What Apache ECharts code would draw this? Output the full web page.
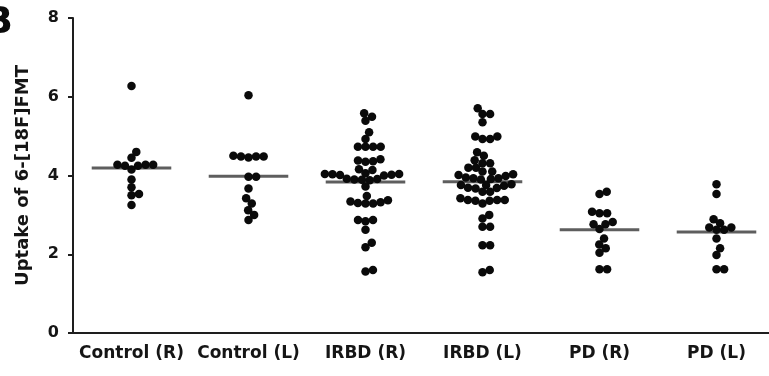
<!DOCTYPE html>
<html>
<head>
<meta charset="utf-8">
<script src="https://cdn.jsdelivr.net/npm/echarts@6/dist/echarts.min.js"></script>
<style>
  html, body { margin: 0; padding: 0; background: #ffffff; }
  #chart { width: 769px; height: 376px; }
</style>
</head>
<body>
<div id="chart"></div>
<script>
// Groups along the x axis
const categories = ['Control (R)', 'Control (L)', 'IRBD (R)', 'IRBD (L)', 'PD (R)', 'PD (L)'];

// 6-[18F]FMT uptake, one value per subject
const controlR = [6.27, 4.60, 4.45, 4.27, 4.27, 4.27, 4.25, 4.25, 4.15, 3.90, 3.70, 3.53, 3.50, 3.25];
const controlL = [6.04, 4.50, 4.48, 4.48, 4.46, 4.48, 3.97, 3.97, 3.67, 3.42, 3.29, 3.12, 3.00, 2.87];
const irbdR = [5.58, 5.49, 5.39, 5.10, 4.93, 4.73, 4.73, 4.73, 4.73, 4.41, 4.36, 4.35, 4.38,
               4.16, 4.14, 4.06, 4.04, 4.03, 4.02, 4.04, 4.01, 4.00, 3.92, 3.90, 3.89, 3.91, 3.88,
               3.72, 3.48, 3.34, 3.30, 3.29, 3.29, 3.32, 3.37, 2.87, 2.87, 2.84, 2.62, 2.29, 2.18,
               1.60, 1.56];
const irbdL = [5.71, 5.56, 5.56, 5.35, 4.99, 4.99, 4.93, 4.93, 4.59, 4.50, 4.39, 4.31, 4.31,
               4.20, 4.20, 4.10, 4.10, 4.01, 4.03, 3.99, 3.95, 3.93, 3.91, 3.93, 3.90,
               3.78, 3.76, 3.74, 3.76, 3.69, 3.67, 3.68, 3.59, 3.59, 3.42, 3.36, 3.36, 3.29,
               3.38, 3.38, 3.38, 3.00, 2.91, 2.70, 2.70, 2.23, 2.23, 1.60, 1.54];
const pdR = [3.59, 3.53, 3.08, 3.04, 3.04, 2.76, 2.76, 2.82, 2.64, 2.40, 2.25, 2.15, 2.04, 1.62, 1.62];
const pdL = [3.78, 3.53, 2.89, 2.79, 2.68, 2.68, 2.62, 2.62, 2.40, 2.15, 1.98, 1.62, 1.62];

const groups = [controlR, controlL, irbdR, irbdL, pdR, pdL];

// y axis
const yMin = 0, yMax = 8, yStep = 2;
const yTitle = 'Uptake of 6-[18F]FMT';

// layout
const gridTop = 18, gridBottom = 43, gridLeft = 73, gridRight = -6;
const chartHeight = 376;
const dotSize = 8.5;
const dotSpacing = 7.6;   // centre-to-centre packing distance, dots may touch slightly
const pxPerUnit = (chartHeight - gridTop - gridBottom) / (yMax - yMin);

// Beeswarm layout: place each point (lowest first) at the horizontal offset
// closest to the group centre that does not overlap an already placed point.
function swarmOffsets(values, d) {
  const pts = values.map((v, i) => ({ v, i, y: v * pxPerUnit, x: 0 }));
  const order = pts.slice().sort((a, b) => a.v - b.v);
  const placed = [];
  const out = new Array(values.length);
  for (const p of order) {
    const cands = [0];
    for (const q of placed) {
      const dy = Math.abs(p.y - q.y);
      if (dy < d) {
        const dx = Math.sqrt(d * d - dy * dy);
        cands.push(q.x + dx, q.x - dx);
      }
    }
    cands.sort((a, b) => Math.abs(a) - Math.abs(b));
    for (const x of cands) {
      const ok = placed.every(q => (q.x - x) * (q.x - x) + (q.y - p.y) * (q.y - p.y) >= d * d - 1e-6);
      if (ok) { p.x = x; break; }
    }
    placed.push(p);
    out[p.i] = p.x;
  }
  return out;
}

const scatterData = [];
groups.forEach((vals, gi) => {
  const offs = swarmOffsets(vals, dotSpacing);
  vals.forEach((v, k) => {
    scatterData.push({ value: [gi, v], symbolOffset: [offs[k], 0] });
  });
});

const means = groups.map(vals => vals.reduce((s, v) => s + v, 0) / vals.length);
const meanData = means.map((m, gi) => [gi, m]);

const chart = echarts.init(document.getElementById('chart'), null, { renderer: 'canvas' });

const textColor = '#151515';
const labelFont = 'DejaVu Sans';

chart.setOption({
  animation: false,
  backgroundColor: '#ffffff',
  grid: {
    left: gridLeft, right: gridRight, top: gridTop, bottom: gridBottom,
    containLabel: false, outerBoundsMode: 'none'
  },
  graphic: [{
    type: 'text',
    left: -16, top: 4,
    style: { text: 'B', font: 'bold 38px "DejaVu Sans"', fill: '#0a0a0a' }
  }],
  xAxis: {
    type: 'category',
    data: categories,
    boundaryGap: true,
    axisLine: { lineStyle: { color: '#1e1e1e', width: 2 } },
    axisTick: { alignWithLabel: true, length: 5, lineStyle: { color: '#1e1e1e', width: 2 } },
    axisLabel: {
      interval: 0, margin: 12, color: textColor,
      fontFamily: labelFont, fontWeight: 'bold', fontSize: 17
    },
    splitLine: { show: false }
  },
  yAxis: {
    type: 'value',
    min: yMin, max: yMax, interval: yStep,
    name: yTitle,
    nameLocation: 'middle',
    nameGap: 41,
    nameRotate: 90,
    nameTextStyle: { color: textColor, fontFamily: labelFont, fontWeight: 'bold', fontSize: 18 },
    axisLine: { show: true, lineStyle: { color: '#1e1e1e', width: 2 } },
    axisTick: { show: true, length: 5, lineStyle: { color: '#1e1e1e', width: 2 } },
    axisLabel: {
      margin: 14, color: textColor,
      fontFamily: labelFont, fontWeight: 'bold', fontSize: 16
    },
    splitLine: { show: false }
  },
  series: [
    {
      type: 'custom',
      z: 1,
      data: meanData,
      renderItem: function (params, api) {
        const c = api.coord([api.value(0), api.value(1)]);
        const w = api.size([1, 0])[0] * 0.68;
        return {
          type: 'line',
          shape: { x1: c[0] - w / 2, y1: c[1], x2: c[0] + w / 2, y2: c[1] },
          style: { stroke: '#5e5e5e', lineWidth: 3 }
        };
      }
    },
    {
      type: 'scatter',
      z: 2,
      symbol: 'circle',
      symbolSize: dotSize,
      itemStyle: { color: '#0a0a0a', opacity: 1 },
      data: scatterData
    }
  ]
});
</script>
</body>
</html>
